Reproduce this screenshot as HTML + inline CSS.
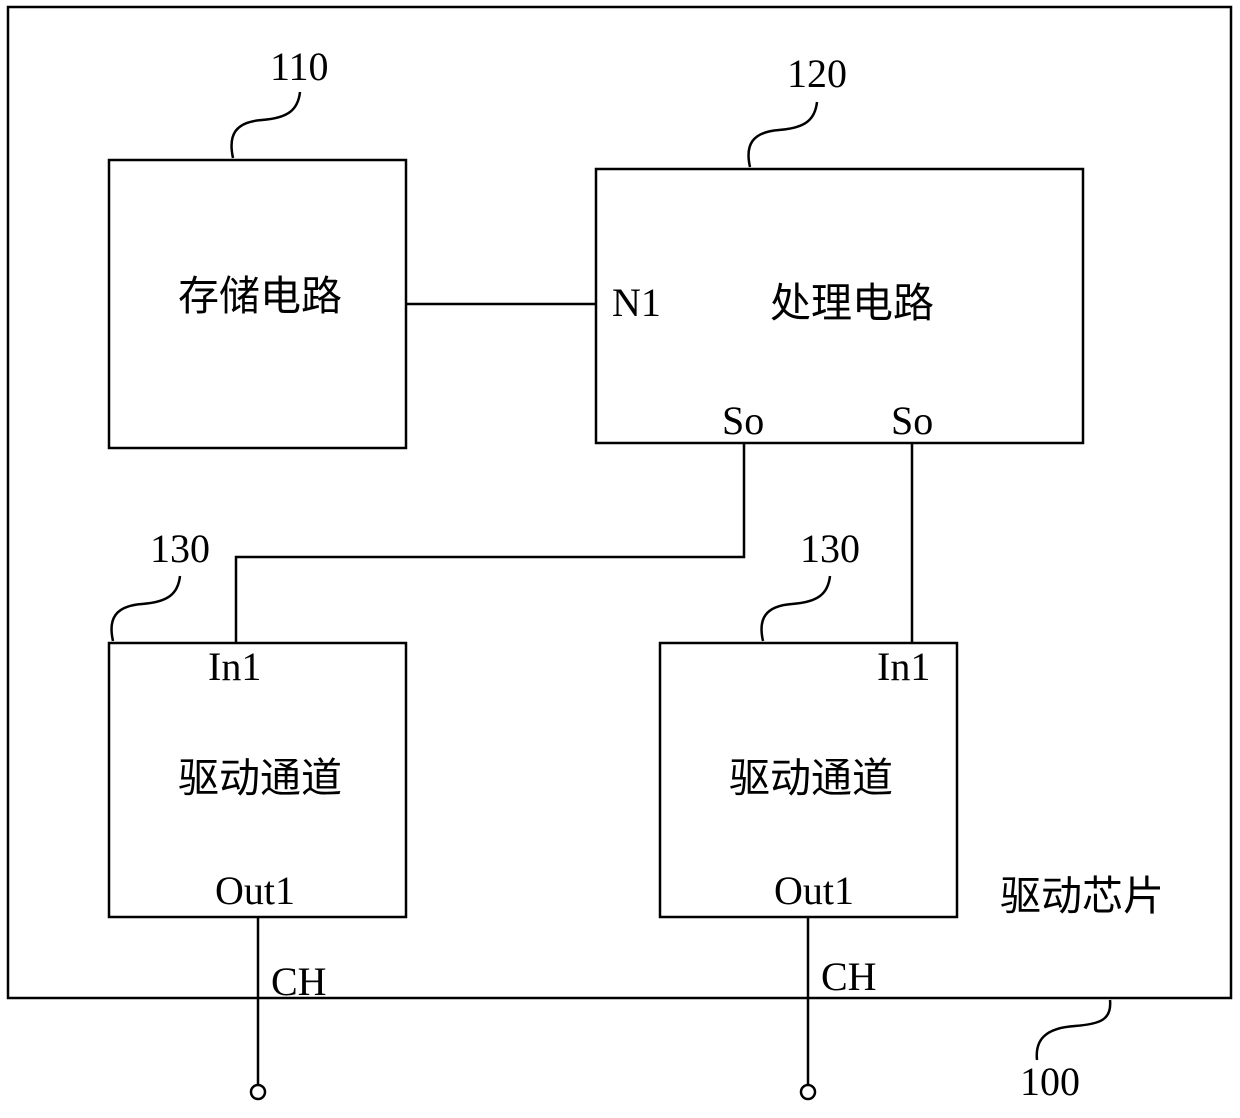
<!DOCTYPE html>
<html><head><meta charset="utf-8"><style>
body{margin:0;background:#fff}
svg text{font-family:"Liberation Serif","Noto Serif CJK SC",serif;fill:#000}
.cn{font-family:"Liberation Sans","Noto Sans CJK SC",sans-serif}
</style></head><body>
<svg width="1240" height="1113" viewBox="0 0 1240 1113" xmlns="http://www.w3.org/2000/svg">
<g fill="none" stroke="#000" stroke-width="2.5">
<rect x="8" y="7" width="1223" height="991"/>
<rect x="109" y="160" width="297" height="288"/>
<rect x="596" y="169" width="487" height="274"/>
<rect x="109" y="643" width="297" height="274"/>
<rect x="660" y="643" width="297" height="274"/>
<path d="M406 304H596"/>
<path d="M744 443V557H236V643"/>
<path d="M912 443V643"/>
<path d="M258 917V1085"/>
<path d="M808 917V1085"/>
<circle cx="258" cy="1092" r="7"/>
<circle cx="808" cy="1092" r="7"/>
<path d="M233 158C228 135 235 122 262 120C288 118 298 110 300 92"/>
<path d="M750 167C745 145 752 132 779 130C805 128 815 120 817 102"/>
<path d="M113 641C108 619 115 606 142 604C168 602 178 594 180 576"/>
<path d="M763 641C758 619 765 606 792 604C818 602 828 594 830 576"/>
<path d="M1110 1000C1112 1020 1100 1024 1075 1026C1045 1028 1035 1040 1037 1060"/>
</g>
<g font-size="40">
<text x="270" y="80">110</text>
<text x="787" y="87">120</text>
<text x="150" y="562">130</text>
<text x="800" y="562">130</text>
<text x="1020" y="1095">100</text>
<text x="612" y="316">N1</text>
<text x="722" y="434">So</text>
<text x="891" y="434">So</text>
<text x="208" y="680">In1</text>
<text x="877" y="680">In1</text>
<text x="215" y="904">Out1</text>
<text x="774" y="904">Out1</text>
<text x="271" y="995">CH</text>
<text x="821" y="990">CH</text>
</g>
<g font-size="41" class="cn">
<text class="cn" x="178" y="310">存储电路</text>
<text class="cn" x="770" y="317">处理电路</text>
<text class="cn" x="178" y="792">驱动通道</text>
<text class="cn" x="729" y="792">驱动通道</text>
<text class="cn" x="1000" y="910">驱动芯片</text>
</g>
</svg>
</body></html>
